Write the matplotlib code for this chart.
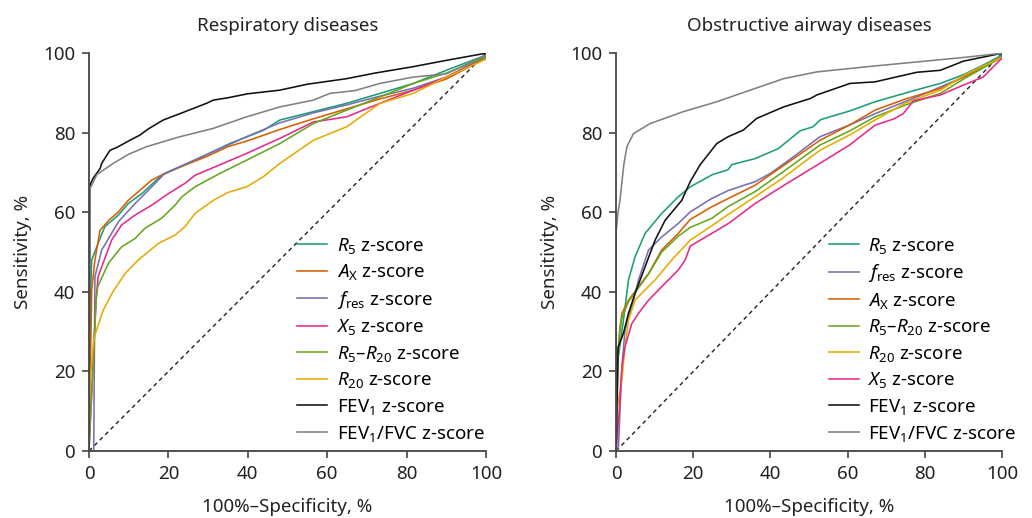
import matplotlib
matplotlib.use("Agg")
import matplotlib.pyplot as plt

plt.rcParams["font.family"] = ["Noto Sans", "DejaVu Sans"]
plt.rcParams["mathtext.fontset"] = "custom"
plt.rcParams["mathtext.rm"] = "Noto Sans"
plt.rcParams["mathtext.it"] = "Noto Sans:italic"
plt.rcParams["font.size"] = 13.5

### data: respiratory diseases (left)

resp_R5_x = [0, 0.25, 0.7, 2.3, 4, 7.4, 9.9, 13.3, 18.3, 26.7, 35.5, 43.9, 48.1, 56.5, 64.9, 73.3, 81.7, 90, 100]
resp_R5_y = [0, 36.3, 48, 52.2, 56.4, 59.3, 62.2, 64.7, 69.3, 73.1, 77.3, 80.6, 83.2, 85.3, 87.4, 89.9, 92.4, 95.7, 99.5]

resp_Ax_x = [0, 0.7, 1.5, 2.8, 5, 7.4, 9.9, 15.8, 19.1, 24, 29.6, 35, 40, 48, 56.5, 64.9, 73.3, 81.7, 90, 100]
resp_Ax_y = [0, 40.5, 48, 55.5, 58, 60.1, 63, 68.1, 69.8, 71.8, 74, 76.5, 78, 80.8, 83.5, 86, 88.5, 90.7, 93.5, 98.8]

resp_fres_x = [0, 1.2, 1.5, 3.2, 7.4, 11.6, 15.8, 19.1, 24, 29.6, 39.7, 48.1, 56.5, 64.9, 73.3, 81.7, 90, 100]
resp_fres_y = [0, 0, 43.8, 50.5, 57.6, 62.2, 66.4, 69.8, 72, 74.5, 79, 82.5, 85, 87, 89.2, 91.2, 94, 99.2]

resp_X5_x = [0, 1.8, 2.3, 5.7, 8.2, 11.6, 15.8, 20, 24.2, 26.7, 33.8, 39.7, 48.1, 56.5, 64.9, 73.3, 81.7, 90, 100]
resp_X5_y = [0, 38, 43.8, 53, 56.8, 59.3, 61.8, 64.7, 67.3, 69.3, 72.3, 74.8, 78.6, 82.7, 84, 87.4, 90.7, 94, 98.8]

resp_R5R20_x = [0, 1.8, 2.2, 4.9, 8.2, 11.6, 14.1, 18.3, 21.7, 23.4, 26.7, 33, 39.7, 48.1, 56.5, 64.9, 73.3, 81.7, 90, 100]
resp_R5R20_y = [0, 38, 41.3, 47.2, 51.3, 53.4, 56, 58.5, 61.8, 63.9, 66.4, 69.8, 73.1, 77.3, 82.3, 85.7, 89, 92.4, 95, 99]

resp_R20_x = [0, 0, 0.5, 1.2, 1.9, 3.6, 6, 9.1, 12.4, 17.5, 21.7, 24.2, 26.7, 31.3, 35, 39.7, 44, 48.1, 56.5, 64.9, 73.3, 81.7, 90, 100]
resp_R20_y = [0, 11, 20, 28, 30.4, 35.4, 40, 44.6, 48, 52.2, 54.3, 56.4, 59.7, 63, 65, 66.4, 69, 72.3, 78.1, 81.5, 87.4, 89.9, 94, 98.5]

resp_FEV1_x = [0, 0.25, 1, 2.8, 3.2, 5.3, 7, 10.3, 12.8, 15, 18.7, 22.9, 26, 29.6, 31.3, 35, 40, 48, 55, 64.9, 72, 81.6, 90, 100]
resp_FEV1_y = [0, 66.8, 68.5, 71, 72.3, 75.6, 76.3, 78.1, 79.4, 81, 83.2, 84.8, 86, 87.4, 88.2, 88.8, 89.8, 90.7, 92.2, 93.6, 95, 96.6, 98.2, 100]

resp_FVC_x = [0, 0.3, 2, 6.1, 10, 14.5, 22.9, 31.3, 39.7, 48.1, 56.5, 60.7, 67, 73.3, 81.7, 90, 100]
resp_FVC_y = [0, 66, 69.5, 72.3, 74.6, 76.5, 79, 81.1, 84, 86.5, 88.2, 89.9, 90.6, 92.4, 94, 94.8, 99.5]

### data: obstructive airway diseases (right)

obs_R5_x = [0, 0.2, 1.9, 3.2, 4.9, 7.5, 11.8, 16.1, 19.2, 25, 29, 30, 36, 42, 47.7, 51, 53, 60.6, 67.1, 77.9, 84, 90, 95.1, 100]
obs_R5_y = [0, 21, 32.9, 43, 48.8, 54.7, 59.7, 63.9, 66.4, 69.5, 70.7, 72, 73.5, 76, 80.5, 81.5, 83.3, 85.5, 87.8, 90.8, 92.4, 94.6, 97, 99.5]

obs_fres_x = [0, 0.6, 1.5, 2.3, 4.1, 5.8, 8.4, 11.8, 16.1, 19.2, 24.8, 29.1, 36, 40, 46, 52.8, 60.6, 67.1, 77.9, 84, 90, 100]
obs_fres_y = [0, 1, 21, 30.4, 36.3, 43, 50.5, 53.8, 57.2, 60.1, 63.5, 65.5, 67.7, 69.8, 74, 79, 82, 84.8, 89, 91.5, 94, 99.2]

obs_Ax_x = [0, 0.5, 1, 1.5, 3.2, 5.8, 8.4, 11.8, 16.1, 19.2, 24.8, 29.1, 36, 43, 52.8, 60.6, 67.1, 75, 84, 90, 100]
obs_Ax_y = [0, 25, 31.2, 34.6, 37.9, 41.3, 44.6, 50.5, 54.7, 58.2, 61.4, 63.5, 66.8, 71.5, 78.1, 82, 85.7, 88.5, 91.1, 94, 99]

obs_R5R20_x = [0, 0.5, 1, 1.5, 3.2, 5.8, 8.4, 11.8, 16.1, 19.2, 24.8, 29.1, 36, 43, 52.8, 60.6, 67.1, 75, 84, 90, 100]
obs_R5R20_y = [0, 24, 30, 33.5, 37.5, 41, 44.5, 50, 54, 56.2, 58.5, 61.5, 65.2, 70, 76.9, 80.5, 84, 87, 89.9, 93.5, 99]

obs_R20_x = [0, 0.3, 0.6, 1.5, 2.3, 3.2, 4.9, 7.5, 10.1, 14.4, 19.2, 23.1, 29.1, 36, 43, 52.8, 60.6, 67.1, 75, 84, 90.8, 100]
obs_R20_y = [0, 11, 12.8, 17.8, 26.2, 32.9, 37.9, 40.5, 43, 48, 53, 55.5, 59.5, 63.9, 68.5, 75.6, 79.5, 83.2, 87.5, 90.7, 94.8, 99]

obs_X5_x = [0, 0.8, 1.5, 2.3, 4.1, 5.8, 8.4, 11.8, 16.1, 17.9, 19.2, 24.8, 29.1, 36, 43, 52.8, 60.6, 67.1, 72, 74.4, 77, 84, 90, 95.1, 100]
obs_X5_y = [0, 10, 21.2, 26.2, 32.1, 34.6, 37.9, 41.3, 45.5, 48, 51.5, 54.7, 57.2, 62.2, 66.5, 72.3, 77, 81.9, 83.5, 84.8, 88, 89.5, 92, 94, 98.8]

obs_FEV1_x = [0, 0.5, 1.9, 3.2, 4.9, 7.5, 10.1, 12.7, 17, 19.2, 21.8, 26.1, 29, 33, 36.4, 43.4, 50.3, 52, 60.6, 67.1, 77.9, 84, 90, 100]
obs_FEV1_y = [0, 26, 29.6, 34.6, 39.6, 46.3, 53, 58, 63, 67.7, 72, 77.3, 79, 80.7, 83.6, 86.5, 88.6, 89.5, 92.4, 92.8, 95.2, 95.7, 98, 100]

obs_FVC_x = [0, 0, 0.5, 1, 2, 2.8, 4.5, 8.8, 17.4, 26.1, 34.7, 43.4, 52, 65, 73.6, 82.2, 90.8, 100]
obs_FVC_y = [0, 55, 60, 63, 72, 76.5, 79.8, 82.3, 85.3, 87.8, 90.7, 93.6, 95.3, 96.6, 97.4, 98.2, 99, 100]

### labels / colours

lab_R5 = r"$R_{5}$ z-score"
lab_Ax = r"$A_\mathrm{X}$ z-score"
lab_fres = r"$f_\mathrm{res}$ z-score"
lab_X5 = r"$X_{5}$ z-score"
lab_R5R20 = r"$R_{5}$–$R_{20}$ z-score"
lab_R20 = r"$R_{20}$ z-score"
lab_FEV1 = r"FEV$_1$ z-score"
lab_FVC = r"FEV$_1$/FVC z-score"

c_R5 = "#1b9e77"
c_Ax = "#d95f02"
c_fres = "#7570b3"
c_X5 = "#e7298a"
c_R5R20 = "#66a61e"
c_R20 = "#e6ab02"
c_FEV1 = "#111111"
c_FVC = "#808080"

left_curves = [
    (resp_R5_x, resp_R5_y, c_R5, lab_R5),
    (resp_Ax_x, resp_Ax_y, c_Ax, lab_Ax),
    (resp_fres_x, resp_fres_y, c_fres, lab_fres),
    (resp_X5_x, resp_X5_y, c_X5, lab_X5),
    (resp_R5R20_x, resp_R5R20_y, c_R5R20, lab_R5R20),
    (resp_R20_x, resp_R20_y, c_R20, lab_R20),
    (resp_FEV1_x, resp_FEV1_y, c_FEV1, lab_FEV1),
    (resp_FVC_x, resp_FVC_y, c_FVC, lab_FVC),
]
right_curves = [
    (obs_R5_x, obs_R5_y, c_R5, lab_R5),
    (obs_fres_x, obs_fres_y, c_fres, lab_fres),
    (obs_Ax_x, obs_Ax_y, c_Ax, lab_Ax),
    (obs_R5R20_x, obs_R5R20_y, c_R5R20, lab_R5R20),
    (obs_R20_x, obs_R20_y, c_R20, lab_R20),
    (obs_X5_x, obs_X5_y, c_X5, lab_X5),
    (obs_FEV1_x, obs_FEV1_y, c_FEV1, lab_FEV1),
    (obs_FVC_x, obs_FVC_y, c_FVC, lab_FVC),
]

fig = plt.figure(figsize=(10.32, 5.18), dpi=100)
ax1 = fig.add_axes([0.0862, 0.1293, 0.3847, 0.768])
ax2 = fig.add_axes([0.597, 0.1293, 0.374, 0.768])

for ax, curves, title, anchor in [(ax1, left_curves, "Respiratory diseases", 1.015),
                                  (ax2, right_curves, "Obstructive airway diseases", 1.055)]:
    ax.plot([0, 100], [0, 100], ls=(0, (3, 2.5)), c="#222222", lw=1.0)
    for x, y, c, lab in curves:
        ax.plot(x, y, color=c, lw=1.15, label=lab)
    ax.set_xlim(0, 100)
    ax.set_ylim(0, 100)
    ax.set_xticks(range(0, 101, 20))
    ax.set_yticks(range(0, 101, 20))
    for s in ["top", "right"]:
        ax.spines[s].set_visible(False)
    for s in ["left", "bottom"]:
        ax.spines[s].set_color("#444444")
        ax.spines[s].set_linewidth(1.3)
        ax.spines[s].set_zorder(3)
    ax.tick_params(direction="out", length=5, width=1.2, color="#444444",
                   labelsize=13.5, labelcolor="#222222", pad=5)
    ax.set_title(title, fontsize=13.5, color="#222222", pad=16)
    ax.set_xlabel("100%–Specificity, %", fontsize=13.5, color="#222222", labelpad=11)
    ax.set_ylabel("Sensitivity, %", fontsize=13.5, color="#222222", labelpad=8)
    ax.legend(loc="lower right", bbox_to_anchor=(anchor, 0.0), frameon=False,
              fontsize=13.5, handlelength=1.6, handletextpad=0.5,
              labelspacing=0.35, borderaxespad=0.0)

fig.savefig("out.png", dpi=100)
